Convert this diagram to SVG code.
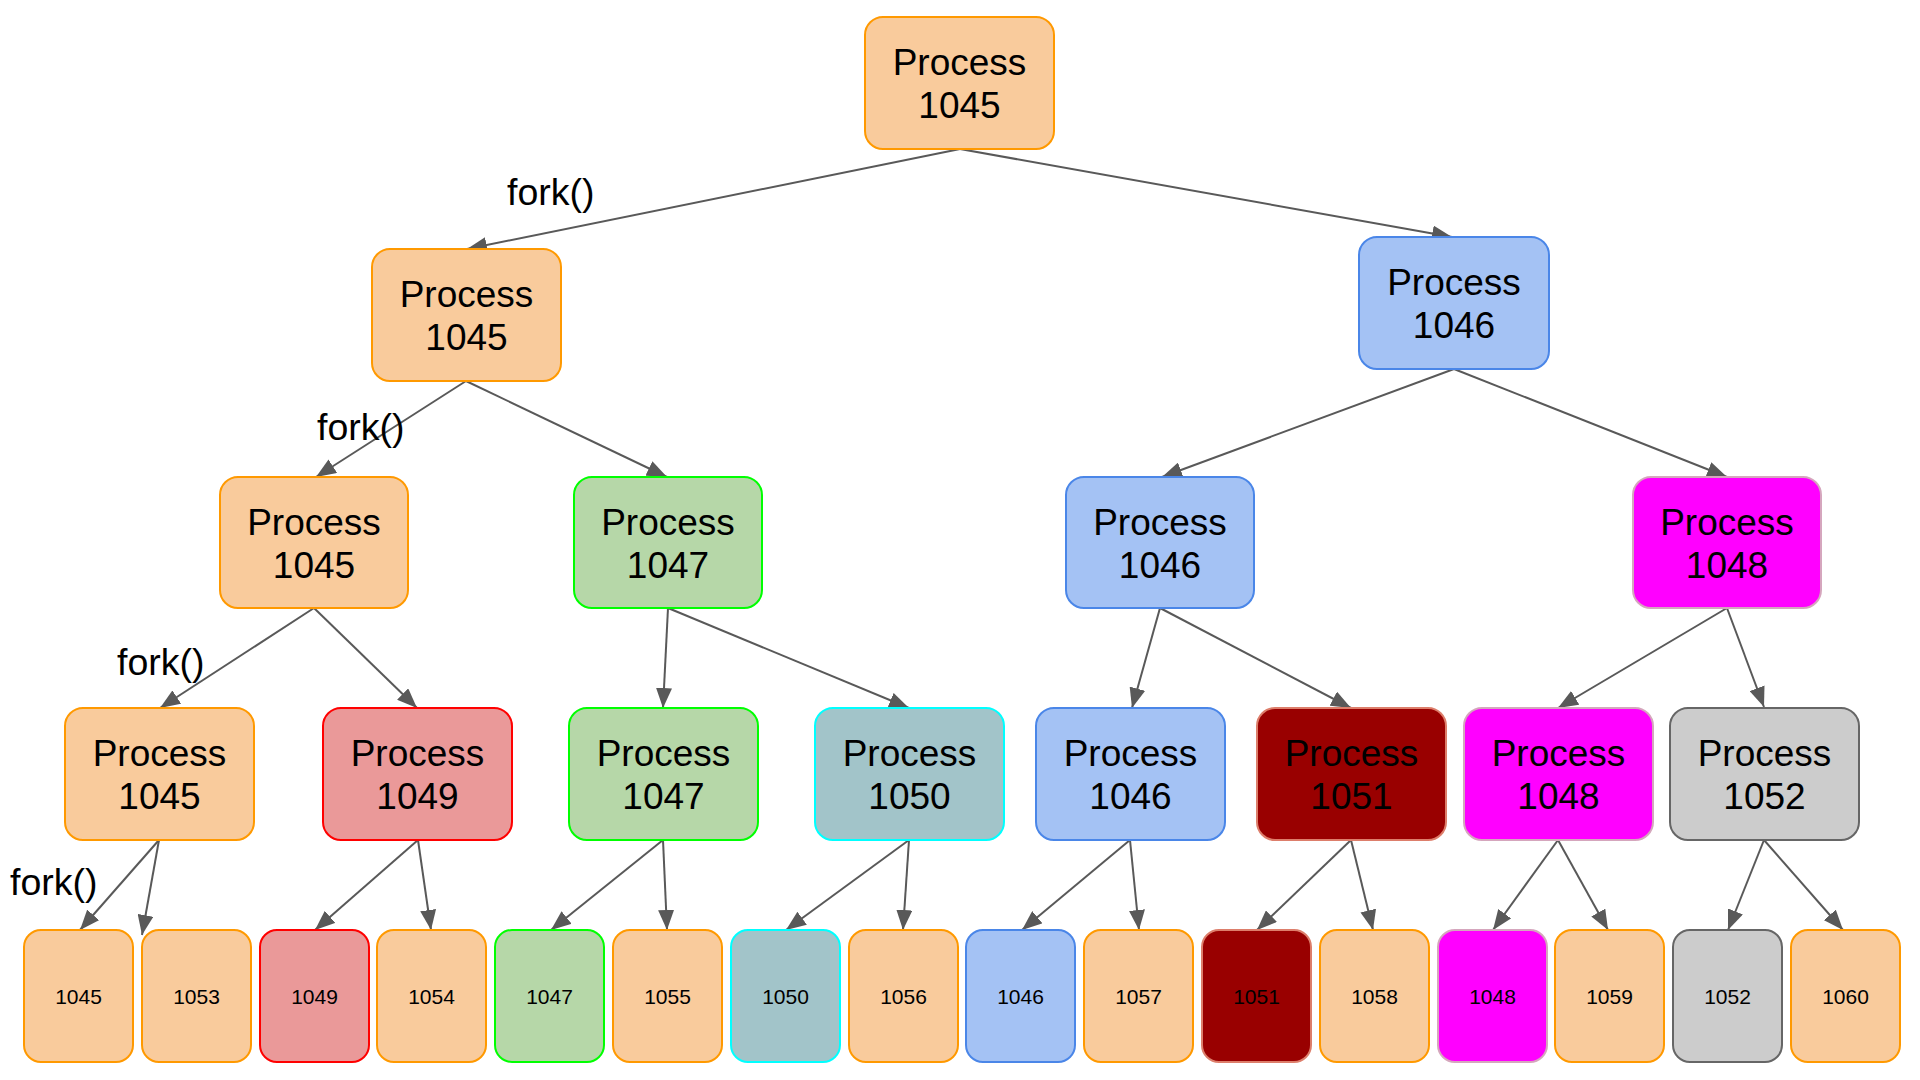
<svg xmlns="http://www.w3.org/2000/svg" width="1920" height="1080" viewBox="0 0 1920 1080">
<defs>
<marker id="ah" viewBox="0 0 10 8" refX="10" refY="4" markerWidth="10" markerHeight="8" markerUnits="strokeWidth" orient="auto">
<path d="M0,0 L10,4 L0,8 z" fill="#595959"/>
</marker>
<style>
.n rect{stroke-width:2}
.big{font-family:"Liberation Sans",Arial,sans-serif;font-size:37px;fill:#000;text-anchor:middle}
.sm{font-family:"Liberation Sans",Arial,sans-serif;font-size:21px;fill:#000;text-anchor:middle}
.lbl{font-family:"Liberation Sans",Arial,sans-serif;font-size:37.5px;fill:#000}
.e line{stroke:#595959;stroke-width:2;marker-end:url(#ah)}
.or{fill:#f9cb9c;stroke:#ff9900}
.bl{fill:#a4c2f4;stroke:#4a86e8}
.gr{fill:#b6d7a8;stroke:#00ff00}
.rd{fill:#ea9999;stroke:#ff0000}
.cy{fill:#a2c4c9;stroke:#00ffff}
.dr{fill:#990000;stroke:#dd7e6b}
.mg{fill:#ff00ff;stroke:#d5a6bd}
.gy{fill:#cccccc;stroke:#666666}
</style>
</defs>
<rect width="1920" height="1080" fill="#fff"/>

<g id="edges" class="e">
<line x1="960" y1="149" x2="467" y2="249"/>
<line x1="960" y1="149" x2="1452" y2="237"/>
<line x1="466" y1="381" x2="316" y2="477"/>
<line x1="466" y1="381" x2="667" y2="477"/>
<line x1="1454" y1="369" x2="1162" y2="477"/>
<line x1="1454" y1="369" x2="1727" y2="477"/>
<line x1="314" y1="608" x2="160" y2="708"/>
<line x1="314" y1="608" x2="417" y2="708"/>
<line x1="668" y1="608" x2="663" y2="708"/>
<line x1="668" y1="608" x2="909" y2="708"/>
<line x1="1160" y1="608" x2="1132" y2="708"/>
<line x1="1160" y1="608" x2="1351" y2="708"/>
<line x1="1727" y1="608" x2="1558" y2="708"/>
<line x1="1727" y1="608" x2="1764" y2="707"/>
<line x1="159" y1="840" x2="80" y2="930"/>
<line x1="159" y1="840" x2="142" y2="935"/>
<line x1="418" y1="840" x2="315" y2="930"/>
<line x1="418" y1="840" x2="431" y2="930"/>
<line x1="663" y1="840" x2="551" y2="930"/>
<line x1="663" y1="840" x2="667" y2="930"/>
<line x1="909" y1="840" x2="786" y2="930"/>
<line x1="909" y1="840" x2="903" y2="930"/>
<line x1="1130" y1="840" x2="1022" y2="930"/>
<line x1="1130" y1="840" x2="1139" y2="930"/>
<line x1="1351" y1="840" x2="1257" y2="930"/>
<line x1="1351" y1="840" x2="1373" y2="930"/>
<line x1="1558" y1="840" x2="1493" y2="930"/>
<line x1="1558" y1="840" x2="1608" y2="930"/>
<line x1="1764" y1="840" x2="1728" y2="930"/>
<line x1="1764" y1="840" x2="1843" y2="930"/>
</g>

<g id="labels">
<text class="lbl" x="507" y="205">fork()</text>
<text class="lbl" x="317" y="440">fork()</text>
<text class="lbl" x="117" y="675">fork()</text>
<text class="lbl" x="10" y="895">fork()</text>
</g>

<g id="n-root" class="n"><rect class="or" x="865" y="17" width="189" height="132" rx="18"/><text class="big" x="959.5" y="75">Process</text><text class="big" x="959.5" y="118">1045</text></g>

<g id="n-l1-1045" class="n"><rect class="or" x="372" y="249" width="189" height="132" rx="18"/><text class="big" x="466.5" y="307">Process</text><text class="big" x="466.5" y="350">1045</text></g>
<g id="n-l1-1046" class="n"><rect class="bl" x="1359" y="237" width="190" height="132" rx="18"/><text class="big" x="1454" y="295">Process</text><text class="big" x="1454" y="338">1046</text></g>

<g id="n-l2-1045" class="n"><rect class="or" x="220" y="477" width="188" height="131" rx="18"/><text class="big" x="314" y="535">Process</text><text class="big" x="314" y="578">1045</text></g>
<g id="n-l2-1047" class="n"><rect class="gr" x="574" y="477" width="188" height="131" rx="18"/><text class="big" x="668" y="535">Process</text><text class="big" x="668" y="578">1047</text></g>
<g id="n-l2-1046" class="n"><rect class="bl" x="1066" y="477" width="188" height="131" rx="18"/><text class="big" x="1160" y="535">Process</text><text class="big" x="1160" y="578">1046</text></g>
<g id="n-l2-1048" class="n"><rect class="mg" x="1633" y="477" width="188" height="131" rx="18"/><text class="big" x="1727" y="535">Process</text><text class="big" x="1727" y="578">1048</text></g>

<g id="n-l3-1045" class="n"><rect class="or" x="65" y="708" width="189" height="132" rx="18"/><text class="big" x="159.5" y="766">Process</text><text class="big" x="159.5" y="809">1045</text></g>
<g id="n-l3-1049" class="n"><rect class="rd" x="323" y="708" width="189" height="132" rx="18"/><text class="big" x="417.5" y="766">Process</text><text class="big" x="417.5" y="809">1049</text></g>
<g id="n-l3-1047" class="n"><rect class="gr" x="569" y="708" width="189" height="132" rx="18"/><text class="big" x="663.5" y="766">Process</text><text class="big" x="663.5" y="809">1047</text></g>
<g id="n-l3-1050" class="n"><rect class="cy" x="815" y="708" width="189" height="132" rx="18"/><text class="big" x="909.5" y="766">Process</text><text class="big" x="909.5" y="809">1050</text></g>
<g id="n-l3-1046" class="n"><rect class="bl" x="1036" y="708" width="189" height="132" rx="18"/><text class="big" x="1130.5" y="766">Process</text><text class="big" x="1130.5" y="809">1046</text></g>
<g id="n-l3-1051" class="n"><rect class="dr" x="1257" y="708" width="189" height="132" rx="18"/><text class="big" x="1351.5" y="766">Process</text><text class="big" x="1351.5" y="809">1051</text></g>
<g id="n-l3-1048" class="n"><rect class="mg" x="1464" y="708" width="189" height="132" rx="18"/><text class="big" x="1558.5" y="766">Process</text><text class="big" x="1558.5" y="809">1048</text></g>
<g id="n-l3-1052" class="n"><rect class="gy" x="1670" y="708" width="189" height="132" rx="18"/><text class="big" x="1764.5" y="766">Process</text><text class="big" x="1764.5" y="809">1052</text></g>

<g id="leaf-1045" class="n"><rect class="or" x="24" y="930" width="109" height="132" rx="17"/><text class="sm" x="78.5" y="1004">1045</text></g>
<g id="leaf-1053" class="n"><rect class="or" x="142" y="930" width="109" height="132" rx="17"/><text class="sm" x="196.5" y="1004">1053</text></g>
<g id="leaf-1049" class="n"><rect class="rd" x="260" y="930" width="109" height="132" rx="17"/><text class="sm" x="314.5" y="1004">1049</text></g>
<g id="leaf-1054" class="n"><rect class="or" x="377" y="930" width="109" height="132" rx="17"/><text class="sm" x="431.5" y="1004">1054</text></g>
<g id="leaf-1047" class="n"><rect class="gr" x="495" y="930" width="109" height="132" rx="17"/><text class="sm" x="549.5" y="1004">1047</text></g>
<g id="leaf-1055" class="n"><rect class="or" x="613" y="930" width="109" height="132" rx="17"/><text class="sm" x="667.5" y="1004">1055</text></g>
<g id="leaf-1050" class="n"><rect class="cy" x="731" y="930" width="109" height="132" rx="17"/><text class="sm" x="785.5" y="1004">1050</text></g>
<g id="leaf-1056" class="n"><rect class="or" x="849" y="930" width="109" height="132" rx="17"/><text class="sm" x="903.5" y="1004">1056</text></g>
<g id="leaf-1046" class="n"><rect class="bl" x="966" y="930" width="109" height="132" rx="17"/><text class="sm" x="1020.5" y="1004">1046</text></g>
<g id="leaf-1057" class="n"><rect class="or" x="1084" y="930" width="109" height="132" rx="17"/><text class="sm" x="1138.5" y="1004">1057</text></g>
<g id="leaf-1051" class="n"><rect class="dr" x="1202" y="930" width="109" height="132" rx="17"/><text class="sm" x="1256.5" y="1004">1051</text></g>
<g id="leaf-1058" class="n"><rect class="or" x="1320" y="930" width="109" height="132" rx="17"/><text class="sm" x="1374.5" y="1004">1058</text></g>
<g id="leaf-1048" class="n"><rect class="mg" x="1438" y="930" width="109" height="132" rx="17"/><text class="sm" x="1492.5" y="1004">1048</text></g>
<g id="leaf-1059" class="n"><rect class="or" x="1555" y="930" width="109" height="132" rx="17"/><text class="sm" x="1609.5" y="1004">1059</text></g>
<g id="leaf-1052" class="n"><rect class="gy" x="1673" y="930" width="109" height="132" rx="17"/><text class="sm" x="1727.5" y="1004">1052</text></g>
<g id="leaf-1060" class="n"><rect class="or" x="1791" y="930" width="109" height="132" rx="17"/><text class="sm" x="1845.5" y="1004">1060</text></g>
</svg>
